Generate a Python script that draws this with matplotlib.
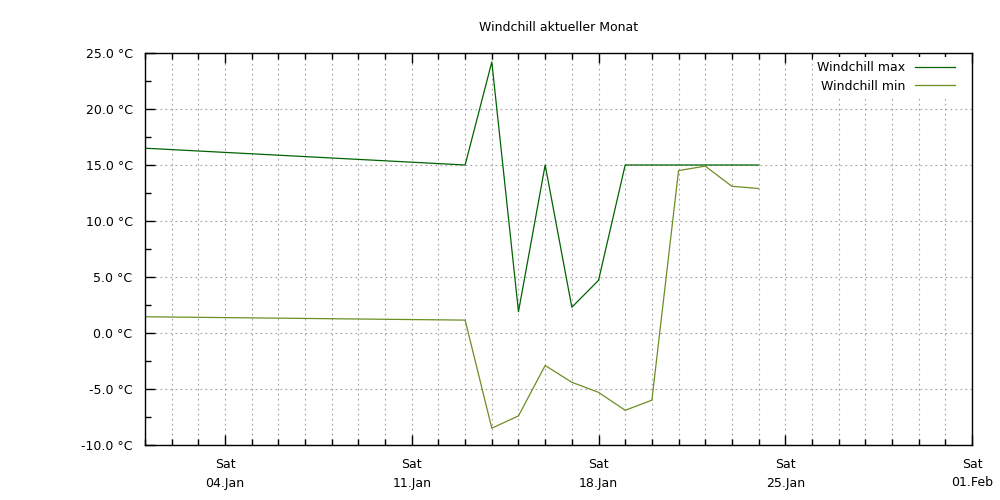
import numpy as np
import matplotlib
matplotlib.use("Agg")
import matplotlib.pyplot as plt
import matplotlib.dates as mdates
from datetime import datetime

# ==== Data ====
dates = ["2025-01-01", "2025-01-13", "2025-01-14", "2025-01-15", "2025-01-16",
         "2025-01-17", "2025-01-18", "2025-01-19", "2025-01-20", "2025-01-21",
         "2025-01-22", "2025-01-23", "2025-01-24"]
windchill_max = [16.5, 15.0, 24.2, 1.9, 15.0, 2.3, 4.7, 15.0, 15.0, 15.0, 15.0, 15.0, 15.0]
windchill_min = [1.45, 1.15, -8.5, -7.4, -2.9, -4.4, -5.3, -6.9, -6.0, 14.5, 14.9, 13.1, 12.9]
y_ticks = [-10, -5, 0, 5, 10, 15, 20, 25]

x = [datetime.strptime(d, "%Y-%m-%d") for d in dates]

plt.rcParams["font.family"] = ["DejaVu Sans"]
plt.rcParams["font.size"] = 9

fig = plt.figure(figsize=(10, 5), dpi=100)
ax = fig.add_axes([0.145, 0.11, 0.827, 0.784])

ax.plot(x, windchill_max, color="#006400", lw=0.9, label="Windchill max")
ax.plot(x, windchill_min, color="#6b8e23", lw=0.9, label="Windchill min")

ax.set_xlim(datetime(2025, 1, 1), datetime(2025, 2, 1))
ax.set_ylim(-10, 25)

ax.xaxis.set_major_locator(mdates.WeekdayLocator(byweekday=mdates.SA))
ax.xaxis.set_minor_locator(mdates.DayLocator())
ax.xaxis.set_major_formatter(mdates.DateFormatter("%a\n%d.%b"))

ax.set_yticks(y_ticks)
ax.set_yticklabels([f"{v:.1f} °C" for v in y_ticks])
ax.set_yticks(np.arange(-10, 25.1, 2.5), minor=True)

ax.tick_params(which="both", direction="in", top=True, right=False, width=1, color="black")
ax.tick_params(which="major", length=7, pad=9)
ax.tick_params(which="minor", length=4)
for lbl in ax.get_xticklabels():
    lbl.set_linespacing(1.6)

ax.grid(True, axis="x", which="both", linestyle=(0, (1.5, 3)), color="#a0a0a0", lw=0.8)
ax.grid(True, axis="y", which="major", linestyle=(0, (1.5, 3)), color="#a0a0a0", lw=0.8)

for s in ax.spines.values():
    s.set_linewidth(1)
    s.set_color("black")

ax.set_title("Windchill aktueller Monat", fontsize=9, pad=16)

leg = ax.legend(loc="upper right", bbox_to_anchor=(0.993, 1.008), frameon=True,
                markerfirst=False, handlelength=3.2, labelspacing=0.45,
                borderaxespad=0.6, borderpad=0.3, handletextpad=0.8,
                fontsize=9, fancybox=False, framealpha=1)
leg.get_frame().set_edgecolor("none")
leg.get_frame().set_facecolor("white")

fig.savefig("out.png", dpi=100)
